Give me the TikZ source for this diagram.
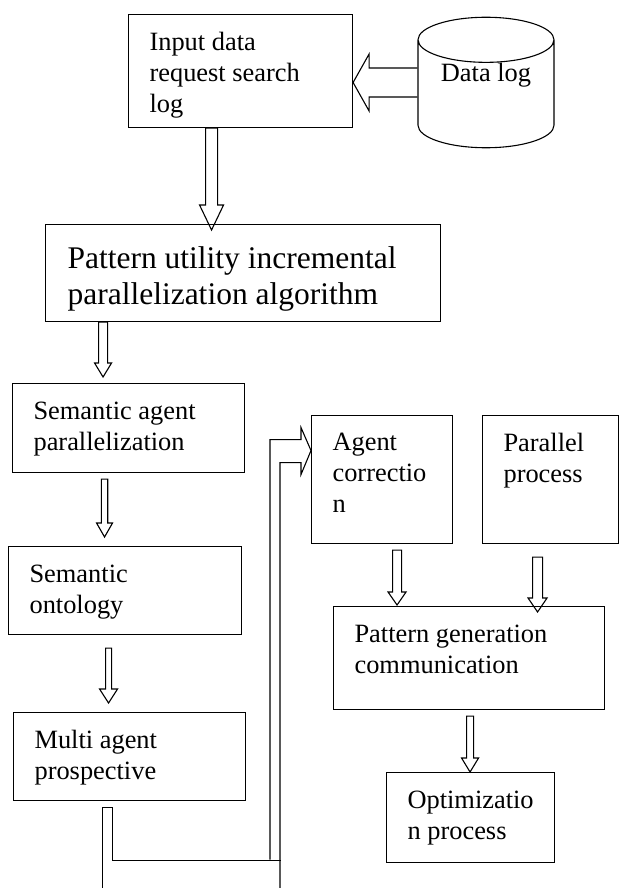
\documentclass[tikz,border=0pt]{standalone}
\usepackage{fontspec}
\setmainfont{Liberation Serif}
\usetikzlibrary{positioning,calc,shapes.geometric}

% text of a box: width, height, lines (top left)
\newcommand{\boxtxt}[3]{\parbox[c][#2][t]{#1}{\raggedright #3}}
% hollow arrow pointing down: from, tip, shaft half, head half, head length
\newcommand{\hdown}[5]{\draw[hollow] let \p1=(#1), \p2=(#2) in
  (\x1-#3,\y1) -- (\x1-#3,\y2+#5) -- (\x1-#4,\y2+#5) -- (\x1,\y2)
  -- (\x1+#4,\y2+#5) -- (\x1+#3,\y2+#5) -- (\x1+#3,\y1) -- cycle;}
% hollow arrow pointing left: from, tip, shaft half, head half, head length
\newcommand{\hleft}[5]{\draw[hollow] let \p1=(#1), \p2=(#2) in
  (\x1,\y1+#3) -- (\x2+#5,\y1+#3) -- (\x2+#5,\y1+#4) -- (\x2,\y1)
  -- (\x2+#5,\y1-#4) -- (\x2+#5,\y1-#3) -- (\x1,\y1-#3);}

\begin{document}
\begin{tikzpicture}[x=1pt, y=-1pt, line width=1.1pt,
  box/.style={draw, anchor=north west, inner xsep=21pt, inner ysep=18pt,
    font=\fontsize{26.4}{31}\selectfont},
  bigbox/.style={box, inner xsep=22pt, inner ysep=22pt,
    font=\fontsize{31.5}{36}\selectfont},
  hollow/.style={line join=miter}]
\useasboundingbox (0,0) rectangle (619,888);
% top: request log and data store
\node[box] (inp) at (128,14) {\boxtxt{182pt}{77pt}{Input data\\request search\\log}};
\node[cylinder, shape border rotate=90, draw, aspect=0.5, minimum height=125pt,
  minimum width=136pt, inner sep=0pt, text depth=44pt, anchor=shape center,
  font=\fontsize{26.4}{31}\selectfont] (cyl) at (486,82.5) {Data log};
\node[bigbox] (pat) at (45,224) {\boxtxt{351pt}{53pt}{Pattern utility incremental\\parallelization algorithm}};
% left column
\node[box] (sem) at (12,383) {\boxtxt{190pt}{53pt}{Semantic agent\\parallelization}};
\node[box] (ont) at (8,546) {\boxtxt{191pt}{52pt}{Semantic\\ontology}};
\node[box] (mul) at (13,712) {\boxtxt{190pt}{52pt}{Multi agent\\prospective}};
% right column
\node[box] (agt) at (311,415) {\boxtxt{99pt}{92pt}{Agent\\correctio\\n}};
\node[box] (par) at (482,415) {\boxtxt{94pt}{92pt}{Parallel\\process}};
\node[box] (gen) at (333,606) {\boxtxt{229pt}{67pt}{Pattern generation\\communication}};
\node[box] (opt) at (386,772) {\boxtxt{126pt}{54pt}{Optimizatio\\n process}};

% hollow arrows
\hleft{cyl.west |- cyl.shape center}{inp.east |- cyl.shape center}{14.5pt}{28.5pt}{16pt}
\hdown{$(inp.south)+(-29,0)$}{$(pat.north)+(0,6)$}{6pt}{12pt}{25pt}
\hdown{$(pat.south)+(-140,0)$}{$(sem.north)+(0,-6)$}{4.5pt}{8.5pt}{14pt}
\hdown{$(sem.south)+(-24,6)$}{$(ont.north)+(0,-9)$}{3.2pt}{8pt}{14pt}
\hdown{$(ont.south)+(-16.5,13)$}{$(mul.north)+(0,-9)$}{3pt}{9pt}{14pt}
\hdown{$(agt.south)+(15,6)$}{$(gen.north)+(0,-1)$}{4.5pt}{9pt}{13pt}
\hdown{$(par.south)+(-13,13)$}{$(gen.north)+(0,6)$}{5pt}{9.5pt}{14pt}
\hdown{$(gen.south)+(1,6)$}{opt.north}{3.5pt}{8.5pt}{14pt}

% bent connector from multi agent to agent correction
\coordinate (tip) at ($(agt.west)+(0,-29)$);
\draw[hollow] ($(mul.south)+(-27,88)$) -- ++(0,-82) -- ++(10,0) -- ++(0,53) -- ++(168,0);
\draw[hollow] ($(agt.west)+(-41,380)$) -- ++(0,-420) -- ++(31,0) -- ++(0,-12) -- (tip)
  -- ++(-10,24) -- ++(0,-12) -- ++(-21,0) -- ++(0,426);
\end{tikzpicture}
\end{document}
